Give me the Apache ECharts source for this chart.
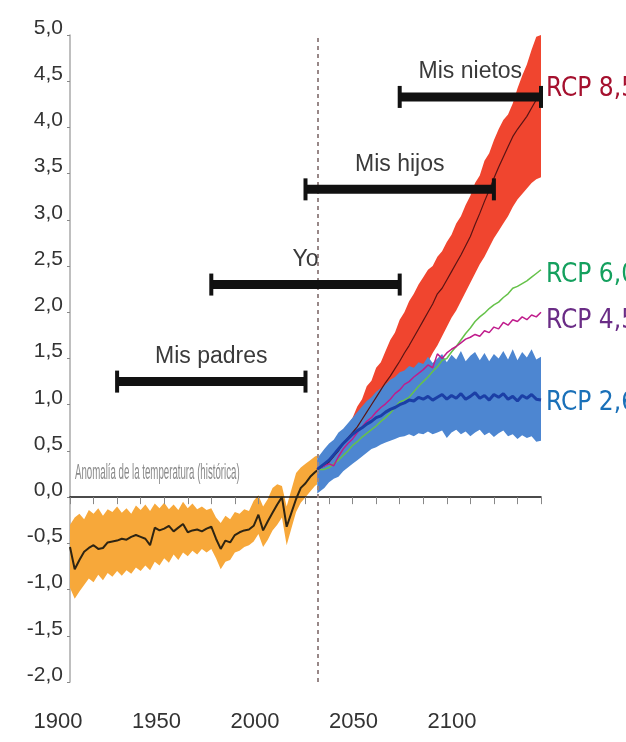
<!DOCTYPE html>
<html><head><meta charset="utf-8">
<script src="https://cdn.jsdelivr.net/npm/echarts@6/dist/echarts.min.js"></script>
<style>html,body{margin:0;padding:0;background:#fff}#c{width:626px;height:742px}</style>
</head><body><div id="c"></div>
<script>
// ---- Historical record ----
const histYears = [1900,1902,1904,1906,1908,1910,1912,1914,1916,1918,
  1920,1922,1924,1926,1928,1930,1932,1934,1936,1938,
  1940,1942,1944,1946,1948,1950,1952,1954,1956,1958,
  1960,1962,1964,1966,1968,1970,1972,1974,1976,1978,
  1980,1982,1984,1986,1988,1990,1992,1994,1996,1998,
  2000,2002,2004,2005];
const histMean = [-0.54,-0.78,-0.68,-0.59,-0.55,-0.52,-0.56,-0.55,-0.49,-0.48,
  -0.47,-0.45,-0.46,-0.43,-0.41,-0.43,-0.45,-0.52,-0.33,-0.36,
  -0.34,-0.31,-0.37,-0.33,-0.29,-0.38,-0.36,-0.35,-0.37,-0.34,
  -0.32,-0.45,-0.56,-0.47,-0.49,-0.41,-0.38,-0.36,-0.35,-0.31,
  -0.19,-0.36,-0.26,-0.17,-0.08,0.00,-0.32,-0.17,-0.02,0.10,
  0.15,0.22,0.27,0.29];
const histHigh = [-0.30,-0.22,-0.18,-0.24,-0.14,-0.18,-0.12,-0.20,-0.13,-0.16,
  -0.10,-0.17,-0.12,-0.18,-0.09,-0.14,-0.08,-0.15,-0.07,-0.12,
  -0.06,-0.13,-0.08,-0.14,-0.05,-0.12,-0.07,-0.13,-0.10,-0.14,
  -0.12,-0.22,-0.28,-0.20,-0.24,-0.16,-0.18,-0.13,-0.15,-0.04,
  0.02,-0.10,-0.02,0.10,0.14,0.12,-0.10,0.08,0.26,0.32,
  0.36,0.40,0.44,0.45];
const histLow = [-0.98,-1.10,-1.02,-0.95,-0.88,-0.92,-0.84,-0.90,-0.82,-0.86,
  -0.80,-0.85,-0.79,-0.83,-0.76,-0.80,-0.74,-0.79,-0.70,-0.74,
  -0.66,-0.71,-0.62,-0.68,-0.60,-0.64,-0.58,-0.62,-0.56,-0.60,
  -0.56,-0.66,-0.78,-0.70,-0.68,-0.60,-0.58,-0.54,-0.52,-0.48,
  -0.40,-0.54,-0.46,-0.36,-0.30,-0.22,-0.52,-0.34,-0.16,-0.06,
  0.00,0.06,0.12,0.14];

// ---- Projections ----
const projYears = [2005,2008,2010,2012,2014,2016,2018,2020,
  2022,2024,2026,2028,2030,2032,2034,2036,
  2038,2040,2042,2044,2046,2048,2050,2052,
  2054,2056,2058,2060,2062,2064,2066,2068,
  2070,2072,2074,2076,2078,2080,2082,2084,
  2086,2088,2090,2092,2094,2096,2098,2100];
const rcp85Mean = [0.30,0.34,0.38,0.44,0.50,0.58,0.64,0.70,
  0.76,0.84,0.92,1.00,1.08,1.16,1.24,1.31,
  1.39,1.47,1.56,1.64,1.73,1.82,1.91,2.00,
  2.09,2.20,2.26,2.35,2.44,2.53,2.62,2.72,
  2.82,2.95,3.07,3.20,3.32,3.45,3.57,3.68,
  3.79,3.90,3.98,4.05,4.12,4.21,4.30,4.36];
const rcp85High = [0.40,0.46,0.50,0.56,0.62,0.70,0.78,0.86,
  0.98,1.06,1.20,1.26,1.40,1.46,1.58,1.70,
  1.78,1.92,2.00,2.12,2.20,2.30,2.38,2.46,
  2.50,2.60,2.66,2.76,2.84,2.96,3.04,3.16,
  3.26,3.40,3.48,3.64,3.72,3.86,3.98,4.08,
  4.14,4.26,4.42,4.56,4.68,4.84,4.98,5.00];
const rcp85Low = [0.20,0.24,0.28,0.32,0.36,0.40,0.44,0.48,
  0.52,0.58,0.64,0.70,0.76,0.82,0.88,0.94,
  1.00,1.06,1.12,1.18,1.26,1.34,1.40,1.46,
  1.56,1.64,1.74,1.84,1.94,2.02,2.12,2.22,
  2.32,2.42,2.52,2.60,2.70,2.80,2.88,2.96,
  3.04,3.14,3.22,3.28,3.34,3.40,3.44,3.46];
const rcp60Mean = [0.30,0.30,0.32,0.36,0.40,0.45,0.50,0.56,
  0.60,0.65,0.69,0.73,0.77,0.82,0.86,0.91,
  0.97,1.03,1.05,1.08,1.14,1.20,1.25,1.30,
  1.36,1.41,1.48,1.50,1.57,1.63,1.70,1.77,
  1.83,1.90,1.95,1.99,2.04,2.08,2.11,2.16,
  2.20,2.26,2.28,2.31,2.34,2.38,2.42,2.46];
const rcp45Mean = [0.30,0.34,0.36,0.34,0.44,0.52,0.58,0.63,
  0.70,0.76,0.82,0.86,0.92,0.97,1.01,1.06,
  1.12,1.16,1.22,1.25,1.30,1.34,1.38,1.43,
  1.40,1.55,1.50,1.56,1.60,1.63,1.67,1.71,
  1.73,1.76,1.74,1.80,1.78,1.84,1.82,1.89,
  1.86,1.92,1.90,1.95,1.92,1.97,1.95,2.00];
const rcp26Mean = [0.30,0.36,0.40,0.46,0.52,0.58,0.63,0.68,
  0.72,0.75,0.79,0.82,0.86,0.88,0.92,0.95,
  0.97,1.00,1.02,1.05,1.04,1.08,1.06,1.09,
  1.05,1.08,1.11,1.06,1.10,1.07,1.12,1.06,
  1.09,1.13,1.07,1.10,1.05,1.11,1.08,1.12,
  1.06,1.09,1.04,1.10,1.07,1.11,1.06,1.05];
const rcp26High = [0.42,0.52,0.58,0.62,0.70,0.74,0.80,0.86,
  0.92,0.98,1.04,1.08,1.14,1.18,1.22,1.27,
  1.30,1.35,1.37,1.42,1.40,1.46,1.44,1.52,
  1.45,1.50,1.55,1.46,1.54,1.49,1.58,1.47,
  1.53,1.57,1.48,1.56,1.47,1.55,1.50,1.58,
  1.49,1.60,1.48,1.57,1.51,1.60,1.49,1.52];
const rcp26Low = [0.04,0.10,0.16,0.20,0.22,0.28,0.32,0.36,
  0.40,0.44,0.48,0.52,0.54,0.57,0.59,0.61,
  0.63,0.65,0.66,0.68,0.66,0.69,0.68,0.71,
  0.68,0.70,0.72,0.64,0.70,0.73,0.68,0.71,
  0.66,0.70,0.73,0.67,0.70,0.65,0.69,0.72,
  0.66,0.68,0.63,0.67,0.64,0.66,0.60,0.61];

// ---- Generations ----
const periodNames = ['Mis padres','Yo','Mis hijos','Mis nietos'];
const periodStart = [1920,1960,2000,2040];
const periodEnd = [2000,2040,2080,2100];
const periodLevel = [1.25,2.30,3.33,4.33];

const rcpLabels = ['RCP 8,5','RCP 6,0','RCP 4,5','RCP 2,6'];
const transitionYear = 2005;
const anomalyText = 'Anomalía de la temperatura (histórica)';

const RCP_FONT = '"DejaVu Sans Condensed", "Liberation Sans", sans-serif';

// value first, year second: the stack is then applied to the value (y) dimension
function valueYear(xs, ys){ return xs.map((x,i)=>[ys[i], x]); }
function spanYear(xs, hi, lo){ return xs.map((x,i)=>[Math.round((hi[i]-lo[i])*1000)/1000, x]); }
function pairs(xs, ys){ return xs.map((x,i)=>[x, ys[i]]); }

function band(key, xs, lo, hi, color){
  return [
    {type:'line', stack:key, stackStrategy:'all', data:valueYear(xs,lo), encode:{x:1, y:0},
     symbol:'none', lineStyle:{opacity:0, width:0}, silent:true, z:2},
    {type:'line', stack:key, stackStrategy:'all', data:spanYear(xs,hi,lo), encode:{x:1, y:0},
     symbol:'none', lineStyle:{opacity:0, width:0}, areaStyle:{color:color, opacity:1}, silent:true, z:2}
  ];
}
function meanLine(xs, ys, color, width, label, labelColor, dy){
  const s = {type:'line', data:pairs(xs,ys), symbol:'none', silent:true, z:4,
    lineStyle:{color:color, width:width}};
  if (label) s.endLabel = {show:true, formatter:label, color:labelColor, fontSize:26,
    fontFamily:RCP_FONT, distance:5, offset:[0,dy]};
  return s;
}

const chart = echarts.init(document.getElementById('c'), null, {renderer:'canvas'});
const series = [].concat(
  band('hist', histYears, histLow, histHigh, '#f7a83a'),
  [Object.assign(meanLine(histYears, histMean, '#2e2412', 2), {
    markLine:{silent:true, symbol:['none','none'], label:{show:false},
      lineStyle:{type:[4,4], color:'#988888', width:2},
      data:[{xAxis:transitionYear}]}
  })],
  band('r85', projYears, rcp85Low, rcp85High, '#f0452f'),
  band('r26', projYears, rcp26Low, rcp26High, '#4d86d1'),
  [
    meanLine(projYears, rcp85Mean, '#5a1414', 1.2, rcpLabels[0], '#a5102e', -5),
    meanLine(projYears, rcp60Mean, '#66c24a', 1.5, rcpLabels[1], '#14a05e', 5),
    meanLine(projYears, rcp45Mean, '#c01c8c', 1.5, rcpLabels[2], '#6a2c86', 9),
    meanLine(projYears, rcp26Mean, '#1b3fa6', 3, rcpLabels[3], '#1a70b8', 3),
    {
      type:'custom', z:10, silent:true,
      data: periodNames.map((n,i)=>[periodStart[i], periodEnd[i], periodLevel[i]]),
      encode:{x:[0,1], y:2},
      renderItem: function(params, api){
        const a = api.coord([api.value(0), api.value(2)]);
        const b = api.coord([api.value(1), api.value(2)]);
        const y = a[1];
        return {type:'group', children:[
          {type:'rect', shape:{x:a[0], y:y-4.5, width:b[0]-a[0], height:9}, style:{fill:'#111'}},
          {type:'rect', shape:{x:a[0]-2, y:y-11, width:4, height:22}, style:{fill:'#111'}},
          {type:'rect', shape:{x:b[0]-2, y:y-11, width:4, height:22}, style:{fill:'#111'}},
          {type:'text', style:{text:periodNames[params.dataIndex], x:(a[0]+b[0])/2, y:y-25,
            align:'center', verticalAlign:'middle', fill:'#3a3a3a', fontSize:23,
            fontFamily:'Liberation Sans'}}
        ]};
      }
    }
  ]
);

chart.setOption({
  animation:false,
  backgroundColor:'#fff',
  grid:[
    {left:70, right:85, top:35, bottom:60},
    {left:58, right:174, top:700, height:4}
  ],
  xAxis:[
    {type:'value', gridIndex:0, min:1900, max:2100, interval:10, z:3,
     axisLine:{show:true, onZero:true, lineStyle:{color:'#111', width:1.5}},
     axisTick:{show:true, length:7, lineStyle:{color:'#888', width:1}},
     axisLabel:{show:false}, splitLine:{show:false}},
    {type:'value', gridIndex:1, min:1900, max:2100, interval:50,
     axisLine:{show:false}, axisTick:{show:false}, splitLine:{show:false},
     axisLabel:{fontSize:22, fontFamily:'Liberation Sans', color:'#333', margin:7,
       formatter:v=>String(v)}}
  ],
  yAxis:[
    {type:'value', gridIndex:0, min:-2, max:5, interval:0.5,
     axisLine:{show:true, onZero:false, lineStyle:{color:'#aaa', width:1.5}},
     axisTick:{show:true, length:3, lineStyle:{color:'#888'}},
     splitLine:{show:false},
     axisLabel:{fontSize:21, fontFamily:'Liberation Sans', color:'#333', margin:7,
       verticalAlign:'bottom', lineHeight:14,
       formatter:v=>v.toFixed(1).replace('.',',')}},
    {type:'value', gridIndex:1, show:false, min:0, max:1}
  ],
  graphic:[
    {type:'text', x:75, y:473, scaleX:0.44, silent:true,
     style:{text:anomalyText, fontSize:22, fontFamily:'Liberation Sans',
       fill:'#8a8a8a', align:'left', verticalAlign:'middle'}}
  ],
  series:series
});
</script></body></html>
